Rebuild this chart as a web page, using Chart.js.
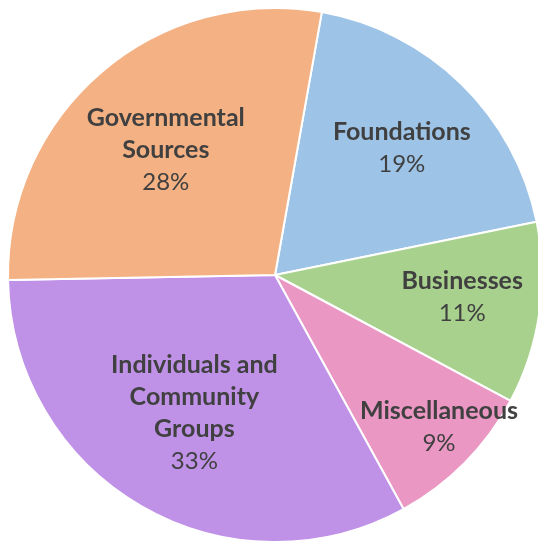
<!DOCTYPE html>
<html>
<head>
<meta charset="utf-8">
<script src="https://cdn.jsdelivr.net/npm/chart.js@4"></script>
<style>
  html, body { margin: 0; padding: 0; background: #fff; overflow: hidden; }
  #wrap { width: 550px; height: 544px; position: relative; }
</style>
</head>
<body>
<div id="wrap"><canvas id="graficoPizza"></canvas></div>
<script>
  // Dados do gráfico
  const categorias = ['Foundations', 'Businesses', 'Miscellaneous', 'Individuals and Community Groups', 'Governmental Sources'];
  const linhasRotulo = [['Foundations'], ['Businesses'], ['Miscellaneous'], ['Individuals and', 'Community', 'Groups'], ['Governmental', 'Sources']];
  const valores = [19.0, 11.0, 9.2, 32.7, 28.1];
  const cores = ['#9DC3E6', '#A9D18E', '#EA97C4', '#BF92E8', '#F4B183'];

  // posição do rotulo: fração do raio e desvio do ângulo médio (graus)
  const posRotulo = [0.68, 0.705, 0.83, 0.59, 0.63];
  const desvioRotulo = [0, -2.4, -2.4, 0.7, 0];

  const rotulosPlugin = {
    id: 'rotulos',
    afterDatasetsDraw(chart) {
      const ctx = chart.ctx;
      const meta = chart.getDatasetMeta(0);
      const total = valores.reduce((a, b) => a + b, 0);
      const alturaLinha = 32;
      meta.data.forEach((arc, i) => {
        const meio = (arc.startAngle + arc.endAngle) / 2 + desvioRotulo[i] * Math.PI / 180;
        const r = arc.outerRadius * posRotulo[i];
        const cx = arc.x + Math.cos(meio) * r;
        const cy = arc.y + Math.sin(meio) * r;
        const linhas = linhasRotulo[i].concat([Math.round(valores[i] / total * 100) + '%']);
        const y0 = cy - (linhas.length - 1) * alturaLinha / 2;
        ctx.save();
        ctx.fillStyle = '#404040';
        ctx.textAlign = 'center';
        ctx.textBaseline = 'middle';
        linhas.forEach((txt, j) => {
          const ultima = j === linhas.length - 1;
          ctx.font = ultima ? '24px Lato, sans-serif' : 'bold 25px Lato, sans-serif';
          ctx.fillText(txt, cx, y0 + j * alturaLinha + 3);
        });
        ctx.restore();
      });
    }
  };

  const ctx = document.getElementById('graficoPizza').getContext('2d');
  new Chart(ctx, {
    type: 'pie',
    data: {
      labels: categorias,
      datasets: [{
        data: valores,
        backgroundColor: cores,
        borderColor: '#ffffff',
        borderWidth: 2
      }]
    },
    options: {
      responsive: true,
      maintainAspectRatio: false,
      animation: false,
      rotation: 10.1,
      layout: { padding: { left: 7, right: 7, top: 6, bottom: 0 } },
      plugins: {
        legend: { display: false },
        tooltip: { enabled: false }
      }
    },
    plugins: [rotulosPlugin]
  });
</script>
</body>
</html>
